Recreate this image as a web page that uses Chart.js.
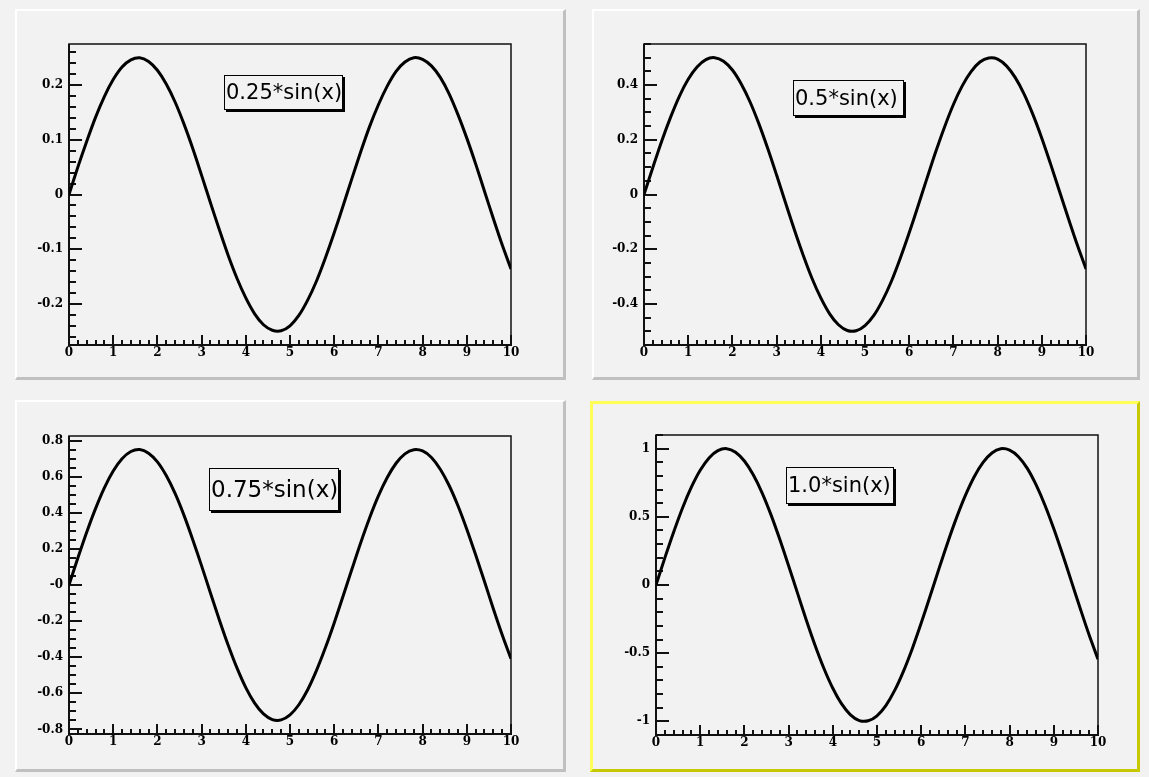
<!DOCTYPE html>
<html>
<head>
<meta charset="utf-8">
<script src="https://cdn.jsdelivr.net/npm/chart.js@4/dist/chart.umd.min.js"></script>
<style>
  html, body { margin: 0; padding: 0; }
  body { width: 1149px; height: 777px; background: #f2f2f2; position: relative; overflow: hidden; }
  .pad { position: absolute; box-sizing: border-box; background: #f2f2f2;
         border-style: solid; border-width: 2px 3px 3px 2px;
         border-color: #ffffff #c0c0c0 #c0c0c0 #ffffff; }
  .pad.active { border-color: #ffff55 #c8c800 #c8c800 #ffff55; border-width: 3px; }
  canvas.plot { position: absolute; }
  .pave { position: absolute; box-sizing: border-box; border: 1px solid #000;
          box-shadow: 2px 2px 0 #000; background: #f2f2f2; color: #000;
          font-family: "DejaVu Sans", sans-serif; white-space: nowrap;
          padding-left: 1px; z-index: 5; }
</style>
</head>
<body>
<script>
// Sampling grid along x
const xs = [0, 0.2, 0.4, 0.6, 0.8, 1.0, 1.2, 1.4, 1.6, 1.8, 2.0, 2.2, 2.4, 2.6, 2.8, 3.0, 3.2, 3.4, 3.6, 3.8,
            4.0, 4.2, 4.4, 4.6, 4.8, 5.0, 5.2, 5.4, 5.6, 5.8, 6.0, 6.2, 6.4, 6.6, 6.8, 7.0, 7.2, 7.4, 7.6, 7.8,
            8.0, 8.2, 8.4, 8.6, 8.8, 9.0, 9.2, 9.4, 9.6, 9.8, 10.0];

// Curve values for each pad
const wave025 = [0, 0.050, 0.097, 0.141, 0.179, 0.210, 0.233, 0.246, 0.250, 0.243, 0.227, 0.202, 0.169, 0.129, 0.084, 0.035,
  -0.015, -0.064, -0.111, -0.153, -0.189, -0.218, -0.238, -0.248, -0.249, -0.240, -0.221, -0.193, -0.158, -0.116, -0.070,
  -0.021, 0.029, 0.078, 0.124, 0.164, 0.198, 0.225, 0.242, 0.250, 0.247, 0.235, 0.214, 0.184, 0.146, 0.103, 0.056, 0.006,
  -0.044, -0.092, -0.136];
const wave050 = [0, 0.099, 0.195, 0.282, 0.359, 0.421, 0.466, 0.493, 0.500, 0.487, 0.455, 0.404, 0.338, 0.258, 0.168, 0.071,
  -0.029, -0.128, -0.221, -0.306, -0.378, -0.436, -0.476, -0.497, -0.498, -0.479, -0.442, -0.386, -0.316, -0.232, -0.140,
  -0.042, 0.058, 0.156, 0.247, 0.329, 0.397, 0.449, 0.484, 0.499, 0.495, 0.470, 0.427, 0.367, 0.292, 0.206, 0.111, 0.012,
  -0.087, -0.183, -0.272];
const wave075 = [0, 0.149, 0.292, 0.423, 0.538, 0.631, 0.699, 0.739, 0.750, 0.730, 0.682, 0.606, 0.507, 0.387, 0.251, 0.106,
  -0.044, -0.192, -0.332, -0.459, -0.568, -0.654, -0.714, -0.745, -0.747, -0.719, -0.663, -0.580, -0.473, -0.348, -0.210,
  -0.062, 0.087, 0.234, 0.371, 0.493, 0.595, 0.674, 0.726, 0.749, 0.742, 0.706, 0.641, 0.551, 0.439, 0.309, 0.167, 0.019,
  -0.131, -0.275, -0.408];
const wave100 = [0, 0.199, 0.389, 0.565, 0.717, 0.841, 0.932, 0.985, 1.000, 0.974, 0.909, 0.808, 0.676, 0.516, 0.335, 0.141,
  -0.058, -0.256, -0.443, -0.612, -0.757, -0.872, -0.952, -0.994, -0.996, -0.959, -0.884, -0.773, -0.631, -0.465, -0.279,
  -0.083, 0.117, 0.312, 0.494, 0.657, 0.794, 0.899, 0.968, 0.999, 0.989, 0.941, 0.855, 0.734, 0.585, 0.412, 0.223, 0.025,
  -0.174, -0.367, -0.544];

// Pave titles
const titles = ["0.25*sin(x)", "0.5*sin(x)", "0.75*sin(x)", "1.0*sin(x)"];

// Axis ticks and labels
const xTickValues = [0, 1, 2, 3, 4, 5, 6, 7, 8, 9, 10];
const xTickLabels = ["0", "1", "2", "3", "4", "5", "6", "7", "8", "9", "10"];
const yTickValues025 = [-0.2, -0.1, 0, 0.1, 0.2];
const yTickLabels025 = ["-0.2", "-0.1", "0", "0.1", "0.2"];
const yTickValues050 = [-0.4, -0.2, 0, 0.2, 0.4];
const yTickLabels050 = ["-0.4", "-0.2", "0", "0.2", "0.4"];
const yTickValues075 = [-0.8, -0.6, -0.4, -0.2, 0, 0.2, 0.4, 0.6, 0.8];
const yTickLabels075 = ["-0.8", "-0.6", "-0.4", "-0.2", "-0", "0.2", "0.4", "0.6", "0.8"];
const yTickValues100 = [-1, -0.5, 0, 0.5, 1];
const yTickLabels100 = ["-1", "-0.5", "0", "0.5", "1"];

// Axis ranges (10% headroom above the curve extremes)
const yRanges = [[-0.275, 0.275], [-0.55, 0.55], [-0.825, 0.825], [-1.1, 1.1]];
const yMinorSteps = [0.02, 0.05, 0.05, 0.1];
const xMinorStep = 0.2;

// Pad and frame geometry (page pixels): [left, top, right, bottom]
const padRects = [[15, 9, 566, 380], [592, 9, 1140, 380], [15, 400, 566, 772], [590, 401, 1140, 772]];
const frameRects = [[69, 44, 511, 345], [644, 44, 1086, 345], [69, 436, 511, 734], [656, 435, 1098, 735]];
// Pave boxes: [left, top, width, height, fontSize]
const paveBoxes = [[224, 75, 119, 35, 21], [793, 80, 111, 36, 21], [209, 468, 130, 43, 23], [786, 467, 108, 37, 21]];

const series = [wave025, wave050, wave075, wave100];
const yTickValues = [yTickValues025, yTickValues050, yTickValues075, yTickValues100];
const yTickLabels = [yTickLabels025, yTickLabels050, yTickLabels075, yTickLabels100];

const Y_AXIS_W = 50;
const X_AXIS_H = 24;
const tickFont = { family: "'DejaVu Serif', 'Liberation Serif', serif", size: 12, weight: 'bold' };

// Draws the frame, axis lines and inward ticks (major + minor)
const frameTicks = {
  id: 'frameTicks',
  beforeDatasetsDraw(chart, args, opts) {
    const { ctx, chartArea: a, scales } = chart;
    const xs_ = scales.x, ys_ = scales.y;
    ctx.save();
    ctx.strokeStyle = '#111';
    ctx.lineCap = 'butt';
    // frame
    ctx.lineWidth = 1.5;
    ctx.strokeRect(a.left, a.top, a.right - a.left, a.bottom - a.top);
    // axis lines
    ctx.lineWidth = 2;
    ctx.beginPath();
    ctx.moveTo(a.left, a.top); ctx.lineTo(a.left, a.bottom);
    ctx.moveTo(a.left - 1, a.bottom); ctx.lineTo(a.right + 1, a.bottom);
    ctx.stroke();

    // y ticks
    const ym = opts.yMinor, yM = opts.yMajor;
    const k0 = Math.ceil(ys_.min / ym - 1e-9), k1 = Math.floor(ys_.max / ym + 1e-9);
    ctx.beginPath();
    for (let k = k0; k <= k1; k++) {
      const v = k * ym;
      const isMajor = yM.some(m => Math.abs(m - v) < 1e-6);
      const py = Math.round(ys_.getPixelForValue(v));
      ctx.moveTo(a.left, py);
      ctx.lineTo(a.left + (isMajor ? 13 : 7), py);
    }
    ctx.stroke();

    // x ticks
    const xm = opts.xMinor;
    const j0 = Math.ceil(xs_.min / xm - 1e-9), j1 = Math.floor(xs_.max / xm + 1e-9);
    ctx.beginPath();
    for (let j = j0; j <= j1; j++) {
      const v = j * xm;
      const isMajor = Math.abs(v - Math.round(v)) < 1e-6;
      const px = Math.round(xs_.getPixelForValue(v));
      ctx.moveTo(px, a.bottom);
      ctx.lineTo(px, a.bottom - (isMajor ? 10 : 5));
    }
    ctx.stroke();
    ctx.restore();
  }
};

for (let i = 0; i < 4; i++) {
  const [pl, pt, pr, pb] = padRects[i];
  const [fl, ft, fr, fb] = frameRects[i];

  const pad = document.createElement('div');
  pad.className = 'pad' + (i === 3 ? ' active' : '');
  Object.assign(pad.style, { left: pl + 'px', top: pt + 'px', width: (pr - pl) + 'px', height: (pb - pt) + 'px' });
  document.body.appendChild(pad);

  const cv = document.createElement('canvas');
  cv.className = 'plot';
  cv.width = pr - pl; cv.height = pb - pt;
  Object.assign(cv.style, { left: pl + 'px', top: pt + 'px', width: (pr - pl) + 'px', height: (pb - pt) + 'px' });
  document.body.appendChild(cv);

  const [bl, bt, bw, bh, fs] = paveBoxes[i];
  const pave = document.createElement('div');
  pave.className = 'pave';
  pave.textContent = titles[i];
  Object.assign(pave.style, { left: bl + 'px', top: bt + 'px', width: bw + 'px', height: bh + 'px',
    fontSize: fs + 'px', lineHeight: (bh - 2) + 'px' });
  document.body.appendChild(pave);

  const yVals = yTickValues[i], yLabs = yTickLabels[i];
  const points = xs.map((x, k) => ({ x: x, y: series[i][k] }));

  new Chart(cv, {
    type: 'line',
    data: {
      datasets: [{
        label: titles[i],
        data: points,
        borderColor: '#000',
        borderWidth: 3,
        pointRadius: 0,
        tension: 0.3,
        fill: false
      }]
    },
    options: {
      responsive: false,
      animation: false,
      devicePixelRatio: 1,
      layout: {
        padding: {
          left: (fl - pl) - Y_AXIS_W,
          top: ft - pt,
          right: pr - fr,
          bottom: (pb - fb) - X_AXIS_H
        }
      },
      plugins: {
        legend: { display: false },
        tooltip: { enabled: false },
        frameTicks: { yMajor: yVals, yMinor: yMinorSteps[i], xMinor: xMinorStep }
      },
      scales: {
        x: {
          type: 'linear',
          min: 0, max: 10,
          border: { display: false },
          grid: { display: false, drawTicks: false },
          afterBuildTicks: s => { s.ticks = xTickValues.map(v => ({ value: v })); },
          afterFit: s => { s.height = X_AXIS_H; },
          ticks: {
            color: '#000',
            font: tickFont,
            padding: 1,
            maxRotation: 0,
            autoSkip: false,
            callback: v => { const k = xTickValues.indexOf(v); return k >= 0 ? xTickLabels[k] : ''; }
          }
        },
        y: {
          type: 'linear',
          min: yRanges[i][0], max: yRanges[i][1],
          border: { display: false },
          grid: { display: false, drawTicks: false },
          afterBuildTicks: s => { s.ticks = yVals.map(v => ({ value: v })); },
          afterFit: s => { s.width = Y_AXIS_W; },
          ticks: {
            color: '#000',
            font: tickFont,
            padding: 6,
            autoSkip: false,
            callback: v => { const k = yVals.findIndex(m => Math.abs(m - v) < 1e-9); return k >= 0 ? yLabs[k] : ''; }
          }
        }
      }
    },
    plugins: [frameTicks]
  });
}
</script>
</body>
</html>
